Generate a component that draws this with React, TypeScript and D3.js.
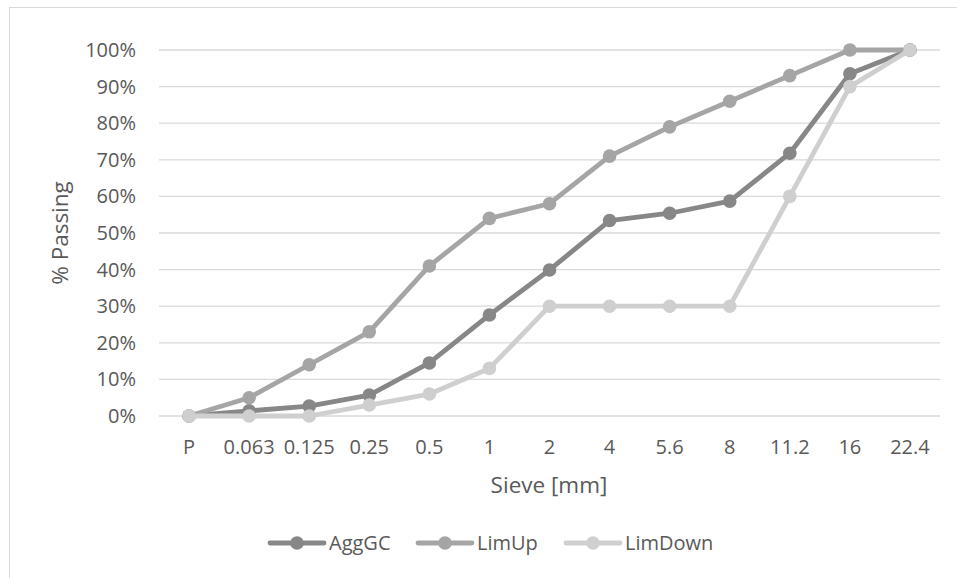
import React from "react";
import * as d3 from "d3";

const categories = ["P", "0.063", "0.125", "0.25", "0.5", "1", "2", "4", "5.6", "8", "11.2", "16", "22.4"];
const aggGC = [0, 1.4, 2.7, 5.7, 14.5, 27.6, 39.9, 53.4, 55.4, 58.7, 71.8, 93.5, 100];
const limUp = [0, 5, 14, 23, 41, 54, 58, 71, 79, 86, 93, 100, 100];
const limDown = [0, 0, 0, 3, 6, 13, 30, 30, 30, 30, 60, 90, 100];
const yTicks = [0, 10, 20, 30, 40, 50, 60, 70, 80, 90, 100];

const seriesList = [
  { name: "AggGC", values: aggGC, color: "#878787" },
  { name: "LimUp", values: limUp, color: "#a5a5a5" },
  { name: "LimDown", values: limDown, color: "#cfcfcf" },
];

const W = 957;
const H = 578;
const plotLeft = 159;
const plotRight = 940;
const plotTop = 50;
const plotBottom = 416;
const FONT = "'Open Sans', sans-serif";
const TEXT = "#595959";

export default function App() {
  const x = d3.scaleBand<string>().domain(categories).range([plotLeft, plotRight]);
  const y = d3.scaleLinear().domain([0, 100]).range([plotBottom, plotTop]);
  const cx = (c: string) => (x(c) as number) + x.bandwidth() / 2;
  const line = d3
    .line<number>()
    .x((_, i) => cx(categories[i]))
    .y((d) => y(d));

  const legendX = [270, 418, 566];
  const legendY = 543;

  return (
    <svg
      width={W}
      height={H}
      style={{ position: "absolute", left: 0, top: 0, background: "#fff" }}
      fontFamily={FONT}
    >
      <rect x={9.5} y={7.5} width={W + 20} height={H + 20} fill="#fff" stroke="#d9d9d9" strokeWidth={1} />
      {yTicks.map((t) => (
        <g key={t}>
          <line x1={plotLeft} x2={plotRight} y1={y(t)} y2={y(t)} stroke="#d9d9d9" strokeWidth={1.3} />
          <text x={136} y={y(t)} dy="0.35em" textAnchor="end" fontSize={20} fill={TEXT}>
            {t}%
          </text>
        </g>
      ))}
      {categories.map((c) => (
        <text key={c} x={cx(c)} y={447} dy="0.35em" textAnchor="middle" fontSize={20} fill={TEXT}>
          {c}
        </text>
      ))}
      <text x={549} y={485} dy="0.35em" textAnchor="middle" fontSize={22.5} fill={TEXT}>
        Sieve [mm]
      </text>
      <text
        transform={`translate(60,233) rotate(-90)`}
        dy="0.35em"
        textAnchor="middle"
        fontSize={22.5}
        fill={TEXT}
      >
        % Passing
      </text>
      {seriesList.map((s) => (
        <g key={s.name}>
          <path d={line(s.values) as string} fill="none" stroke={s.color} strokeWidth={4.8} strokeLinejoin="round" strokeLinecap="round" />
          {s.values.map((v, i) => (
            <circle key={i} cx={cx(categories[i])} cy={y(v)} r={6.8} fill={s.color} />
          ))}
        </g>
      ))}
      {seriesList.map((s, i) => (
        <g key={s.name}>
          <line x1={legendX[i]} x2={legendX[i] + 54} y1={legendY} y2={legendY} stroke={s.color} strokeWidth={4.8} strokeLinecap="round" />
          <circle cx={legendX[i] + 27} cy={legendY} r={6.8} fill={s.color} />
          <text x={legendX[i] + 59} y={legendY} dy="0.35em" fontSize={20} fill={TEXT}>
            {s.name}
          </text>
        </g>
      ))}
    </svg>
  );
}
